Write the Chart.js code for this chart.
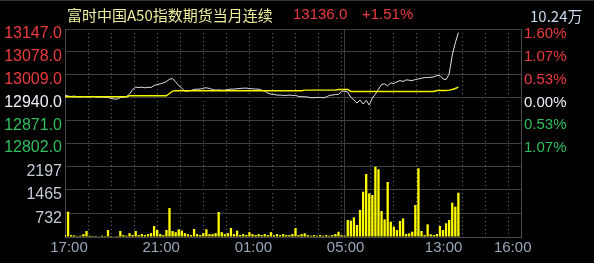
<!DOCTYPE html>
<html>
<head>
<meta charset="utf-8">
<title>富时中国A50指数期货当月连续</title>
<script src="https://cdn.jsdelivr.net/npm/chart.js@4.4.1/dist/chart.umd.min.js"></script>
<style>
    html, body { margin: 0; padding: 0; background: #000; }
    #wrap { width: 594px; height: 263px; }
</style>
</head>
<body>
<div id="wrap"><canvas id="chart" width="594" height="263"></canvas></div>
<script>
// Intraday chart: A50 futures, night session 17:00-05:15 + day session 09:00-16:35
// x axis counts trading minutes (the break between sessions is collapsed)

const STEP_MIN = 8;          // one sample every 8 trading minutes
const SESSION_BREAK = 735;   // 05:15 -> 09:00
const SESSION_END = 1187;
const REF_PRICE = 12940;     // previous settlement

// last price, sampled from 17:00 to ~13:50
const priceVals = [
    12947, 12944, 12943, 12944, 12942, 12941, 12943, 12942, 12941, 12943,
    12942, 12941, 12941, 12941, 12940, 12937, 12935, 12935, 12940, 12941,
    12942, 12950, 12964, 12971, 12970, 12971, 12969, 12971, 12970, 12976,
    12979, 12981, 12984, 12988, 12995, 12997, 12987, 12976, 12968, 12959,
    12959, 12961, 12964, 12965, 12965, 12968, 12969, 12967, 12964, 12962,
    12963, 12962, 12962, 12964, 12965, 12965, 12966, 12967, 12968, 12968,
    12967, 12966, 12965, 12965, 12962, 12959, 12953, 12950, 12949, 12947,
    12947, 12946, 12946, 12947, 12946, 12946, 12943, 12942, 12942, 12941,
    12939, 12939, 12940, 12940, 12939, 12941, 12946, 12947, 12949, 12949,
    12959, 12959, 12956, 12941, 12932, 12923, 12932, 12920, 12931, 12917,
    12938, 12950, 12965, 12979, 12981, 12975, 12984, 12982, 12987, 12991,
    12988, 12993, 12992, 12991, 12994, 12996, 12998, 13000, 13000, 13001,
    13002, 13006, 13006, 12996, 12994, 13011, 13068, 13105, 13136
];

// average price line
const avgVals = [
    12942, 12942, 12942, 12942, 12942, 12942, 12942, 12942, 12942, 12942,
    12942, 12942, 12942, 12942, 12942, 12942, 12942, 12942, 12942, 12942,
    12942, 12945, 12945, 12945, 12945, 12945, 12945, 12945, 12945, 12945,
    12945, 12945, 12945, 12945, 12952, 12959, 12960, 12960, 12960, 12960,
    12960, 12960, 12960, 12960, 12960, 12960, 12960, 12960, 12960, 12960,
    12960, 12960, 12960, 12960, 12960, 12960, 12960, 12960, 12960, 12960,
    12960, 12960, 12960, 12960, 12960, 12960, 12960, 12960, 12960, 12960,
    12960, 12960, 12960, 12960, 12960, 12960, 12960, 12960, 12962, 12962,
    12962, 12962, 12962, 12962, 12962, 12962, 12962, 12962, 12962, 12964,
    12964, 12964, 12964, 12958, 12958, 12958, 12958, 12958, 12958, 12958,
    12958, 12958, 12958, 12958, 12958, 12958, 12958, 12958, 12958, 12958,
    12958, 12958, 12958, 12958, 12958, 12958, 12958, 12958, 12958, 12958,
    12958, 12961, 12961, 12961, 12961, 12962, 12964, 12967, 12971
];

// traded volume per sample
const volVals = [
    60, 790, 60, 50, 30, 40, 90, 187, 40, 30,
    30, 20, 40, 30, 218, 30, 20, 30, 187, 60,
    40, 120, 60, 187, 60, 90, 60, 90, 120, 343,
    218, 90, 60, 218, 904, 187, 150, 240, 200, 120,
    90, 60, 250, 90, 60, 120, 240, 90, 90, 120,
    779, 150, 90, 120, 280, 90, 200, 60, 90, 60,
    150, 90, 60, 90, 60, 90, 60, 150, 60, 90,
    60, 90, 60, 60, 90, 280, 60, 90, 115, 60,
    40, 60, 40, 60, 40, 60, 40, 60, 90, 165,
    60, 40, 530, 511, 613, 374, 841, 1412, 1963, 1360,
    1308, 2190, 2110, 810, 550, 1714, 478, 322, 218, 500,
    580, 94, 115, 166, 997, 2140, 187, 60, 395, 83,
    62, 93, 343, 218, 426, 530, 1070, 945, 1380
];

// axis ticks
const priceTicks = [12802, 12871, 12940, 13009, 13078, 13147];
const volTicks = [0, 732, 1465, 2197, 2929];
const labelTicks = [0, 240, 480, 720, 735, 975, 1155];
const timeLabels = { 0: '17:00', 240: '21:00', 480: '01:00', 720: '05:00', 975: '13:00', 1155: '16:00' };
const hourTicks = [60, 120, 180, 240, 300, 360, 420, 480, 540, 600, 660, 720,
    795, 855, 915, 975, 1035, 1095, 1155];

const FONT = '"Liberation Sans", Arial, sans-serif';
const CJK_FONT = '"Noto Sans CJK SC", "Liberation Sans", sans-serif';
const RED = '#ee3b3f';
const GREEN = '#2fbf5c';
const WHITE = '#eef2fb';
const GRID = '#3e3e3e';
const DOTS = '#6a6a6a';
const EDGE = '#4a4a4a';

function toPoints(vals) {
    return vals.map((v, i) => ({ x: i * STEP_MIN, y: v }));
}

function priceColor(ctx) {
    const v = ctx.tick ? ctx.tick.value : REF_PRICE;
    if (v > REF_PRICE) return RED;
    if (v < REF_PRICE) return GREEN;
    return WHITE;
}

function setTicks(list) {
    return scale => { scale.ticks = list.map(v => ({ value: v })); };
}

// Black background, outer frame line and the header texts
const framePlugin = {
    id: 'frame',
    beforeDraw(chart) {
        const c = chart.ctx;
        c.save();
        c.fillStyle = '#000';
        c.fillRect(0, 0, chart.width, chart.height);
        c.strokeStyle = '#333';
        c.lineWidth = 1;
        c.beginPath();
        c.moveTo(0, 0.5);
        c.lineTo(chart.width, 0.5);
        c.stroke();
        c.restore();
    },
    afterDraw(chart) {
        const c = chart.ctx;
        c.save();
        c.textBaseline = 'middle';
        c.textAlign = 'left';
        c.font = '15px ' + CJK_FONT;
        c.fillStyle = '#eeee9c';
        c.fillText('富时中国A50指数期货当月连续', 67, 15);
        c.font = '15px ' + FONT;
        c.fillStyle = RED;
        c.fillText('13136.0', 293, 15);
        c.fillText('+1.51%', 362, 15);
        c.font = '15px ' + CJK_FONT;
        c.fillStyle = '#c8d8ee';
        c.fillText('10.24万', 530, 16);
        c.restore();
    }
};

const ctx = document.getElementById('chart').getContext('2d');
const chart = new Chart(ctx, {
    type: 'line',
    data: {
        datasets: [
            {
                type: 'line',
                label: '均价',
                data: toPoints(avgVals),
                xAxisID: 'x',
                yAxisID: 'yPrice',
                borderColor: '#f5f500',
                borderWidth: 1.4,
                pointRadius: 0,
                tension: 0,
                order: 0
            },
            {
                type: 'line',
                label: '价格',
                data: toPoints(priceVals),
                xAxisID: 'x',
                yAxisID: 'yPrice',
                borderColor: '#e4e4e4',
                borderWidth: 1,
                pointRadius: 0,
                tension: 0,
                order: 1
            },
            {
                type: 'bar',
                label: '成交量',
                data: toPoints(volVals),
                xAxisID: 'x',
                yAxisID: 'yVol',
                backgroundColor: '#ffff00',
                barPercentage: 1,
                categoryPercentage: 0.75,
                order: 2
            }
        ]
    },
    options: {
        responsive: false,
        animation: false,
        devicePixelRatio: 1,
        layout: { padding: { top: 29, left: 0, right: 0, bottom: 0 } },
        plugins: {
            legend: { display: false },
            tooltip: { enabled: false }
        },
        scales: {
            // labelled time axis; only the session break gets a solid line
            x: {
                type: 'linear',
                position: 'bottom',
                min: 0,
                max: SESSION_END,
                offset: false,
                afterBuildTicks: setTicks(labelTicks),
                afterFit: s => { s.height = 26; },
                grid: {
                    color: c => (c.tick && (c.tick.value === SESSION_BREAK || c.tick.value === 0)) ? GRID : 'rgba(0,0,0,0)',
                    drawTicks: false,
                    lineWidth: 1
                },
                border: { color: EDGE },
                ticks: {
                    autoSkip: false,
                    maxRotation: 0,
                    padding: 2,
                    labelOffset: 4,
                    color: '#9aa8bc',
                    font: { family: FONT, size: 15 },
                    callback: v => timeLabels[v] || ''
                }
            },
            // hourly dotted lines
            xHours: {
                type: 'linear',
                position: 'bottom',
                min: 0,
                max: SESSION_END,
                offset: false,
                afterBuildTicks: setTicks(hourTicks),
                afterFit: s => { s.height = 0; },
                grid: { color: DOTS, drawTicks: false, lineWidth: 1 },
                border: { display: false, dash: [1, 3] },
                ticks: { display: false }
            },
            // left boxes are stacked in reverse: volume first puts it under the price panel
            yVol: {
                type: 'linear',
                position: 'left',
                stack: 'left',
                stackWeight: 94,
                min: volTicks[0],
                max: volTicks[volTicks.length - 1],
                afterBuildTicks: setTicks(volTicks),
                afterFit: s => { s.width = 65; },
                grid: { color: GRID, drawTicks: false },
                border: { color: EDGE },
                ticks: {
                    autoSkip: false,
                    padding: 3,
                    labelOffset: 5,
                    color: '#c2cad6',
                    font: { family: FONT, size: 16 },
                    callback: v => (v === 0 || v === volTicks[volTicks.length - 1]) ? '' : String(v)
                }
            },
            yPrice: {
                type: 'linear',
                position: 'left',
                stack: 'left',
                stackWeight: 114,
                min: priceTicks[0],
                max: priceTicks[priceTicks.length - 1],
                afterBuildTicks: setTicks(priceTicks),
                afterFit: s => { s.width = 65; },
                grid: { color: GRID, drawTicks: false },
                border: { color: EDGE },
                ticks: {
                    autoSkip: false,
                    padding: 3,
                    labelOffset: 5,
                    color: priceColor,
                    font: { family: FONT, size: 16 },
                    callback: v => v.toFixed(1)
                }
            },
            // right boxes keep declaration order: percent panel on top
            yPct: {
                type: 'linear',
                position: 'right',
                stack: 'right',
                stackWeight: 114,
                min: priceTicks[0],
                max: priceTicks[priceTicks.length - 1],
                afterBuildTicks: setTicks(priceTicks),
                afterFit: s => { s.width = 73; },
                grid: { drawOnChartArea: false, drawTicks: false },
                border: { color: EDGE },
                ticks: {
                    autoSkip: false,
                    padding: 3,
                    labelOffset: 5,
                    color: priceColor,
                    font: { family: FONT, size: 15 },
                    callback: v => Math.abs((v - REF_PRICE) / REF_PRICE * 100).toFixed(2) + '%'
                }
            },
            yVolR: {
                type: 'linear',
                position: 'right',
                stack: 'right',
                stackWeight: 94,
                min: 0,
                max: 1,
                afterFit: s => { s.width = 73; },
                grid: { display: false, drawTicks: false },
                border: { color: EDGE },
                ticks: { display: false }
            }
        }
    },
    plugins: [framePlugin]
});
</script>
</body>
</html>
